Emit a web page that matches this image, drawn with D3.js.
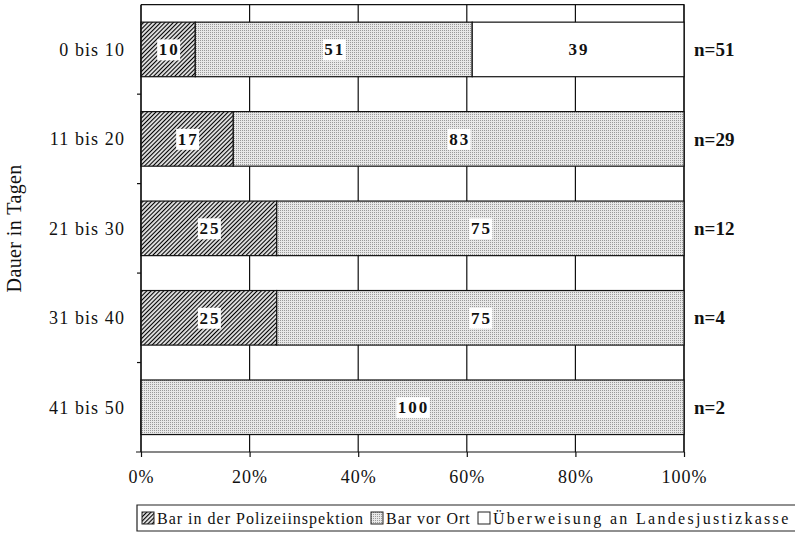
<!DOCTYPE html>
<html>
<head>
<meta charset="utf-8">
<script src="https://cdn.jsdelivr.net/npm/d3@7"></script>
<style>
  body { margin: 0; background: #fff; }
  svg { display: block; font-family: "Liberation Serif", "DejaVu Serif", serif; }
</style>
</head>
<body>
<svg id="chart" width="795" height="536"></svg>
<script>
const categories = ['0 bis 10', '11 bis 20', '21 bis 30', '31 bis 40', '41 bis 50'];
const polizei = [10, 17, 25, 25, 0];
const vorOrt = [51, 83, 75, 75, 100];
const ueberweisung = [39, 0, 0, 0, 0];
const nLabels = ['n=51', 'n=29', 'n=12', 'n=4', 'n=2'];
const xTicks = [0, 20, 40, 60, 80, 100];
const seriesNames = ['Bar in der Polizeiinspektion', 'Bar vor Ort', 'Überweisung an Landesjustizkasse'];

const svg = d3.select('#chart');
const width = 795;

const plotLeft = 141, plotRight = 684, plotTop = 4.7, plotBottom = 452;

const rows = categories.map((c, i) => ({
  cat: c, p: polizei[i], v: vorOrt[i], u: ueberweisung[i], n: nLabels[i]
}));
const keys = ['p', 'v', 'u'];
const stacked = d3.stack().keys(keys)(rows);

const x = d3.scaleLinear().domain([0, 100]).range([plotLeft, plotRight]);
const y = d3.scaleBand().domain(categories).range([plotTop, plotBottom])
  .paddingInner(0.39).paddingOuter(0.195);

// patterns
const defs = svg.append('defs');
const hatch = defs.append('pattern')
  .attr('id', 'hatch')
  .attr('patternUnits', 'userSpaceOnUse')
  .attr('width', 3).attr('height', 3)
  .attr('patternTransform', 'rotate(45)');
hatch.append('rect').attr('width', 3).attr('height', 3).attr('fill', '#e0e0e0');
hatch.append('line').attr('x1', 0).attr('y1', 0).attr('x2', 0).attr('y2', 3)
  .attr('stroke', '#000').attr('stroke-width', 2.1);

const dots = defs.append('pattern')
  .attr('id', 'dots')
  .attr('patternUnits', 'userSpaceOnUse')
  .attr('width', 2).attr('height', 2);
dots.append('rect').attr('width', 2).attr('height', 2).attr('fill', '#e8e8e8');
dots.append('rect').attr('width', 1).attr('height', 1).attr('fill', '#9a9a9a');

const fills = { p: 'url(#hatch)', v: 'url(#dots)', u: '#ffffff' };

// vertical grid lines
svg.append('g')
  .selectAll('line')
  .data(xTicks)
  .join('line')
  .attr('x1', d => x(d)).attr('x2', d => x(d))
  .attr('y1', plotTop).attr('y2', plotBottom)
  .attr('stroke', '#111').attr('stroke-width', 1.2);

// plot border (top and right)
svg.append('path')
  .attr('d', `M${plotLeft},${plotTop}H${plotRight}V${plotBottom}`)
  .attr('fill', 'none').attr('stroke', '#111').attr('stroke-width', 1.2);

// bars
svg.append('g')
  .selectAll('g')
  .data(stacked)
  .join('g')
  .attr('fill', d => fills[d.key])
  .selectAll('rect')
  .data(d => d.filter(s => s[1] - s[0] > 0))
  .join('rect')
  .attr('x', d => x(d[0]))
  .attr('y', d => y(d.data.cat))
  .attr('width', d => x(d[1]) - x(d[0]))
  .attr('height', y.bandwidth())
  .attr('stroke', '#111').attr('stroke-width', 1.2);

// value labels with white boxes
const labels = svg.append('g')
  .selectAll('g')
  .data(stacked.flatMap(s => s.filter(d => d[1] - d[0] > 0)))
  .join('g')
  .attr('transform', d => `translate(${x((d[0] + d[1]) / 2) + 1},${y(d.data.cat) + y.bandwidth() / 2})`);

labels.append('text')
  .attr('text-anchor', 'middle')
  .attr('dy', '0.35em')
  .attr('font-size', 17)
  .attr('font-weight', 'bold')
  .attr('letter-spacing', 2)
  .attr('fill', '#111')
  .text(d => d[1] - d[0])
  .each(function () {
    const b = this.getBBox();
    d3.select(this.parentNode).insert('rect', 'text')
      .attr('x', b.x - 1.5).attr('y', b.y - 1)
      .attr('width', b.width + 2).attr('height', b.height + 2)
      .attr('fill', '#fff');
  });

// n labels
svg.append('g')
  .selectAll('text')
  .data(rows)
  .join('text')
  .attr('x', 694)
  .attr('y', d => y(d.cat) + y.bandwidth() / 2)
  .attr('dy', '0.35em')
  .attr('font-size', 19)
  .attr('font-weight', 'bold')
  .attr('fill', '#111')
  .text(d => d.n);

// y axis: category labels and ticks at band boundaries
svg.append('g')
  .selectAll('text')
  .data(categories)
  .join('text')
  .attr('x', 125)
  .attr('y', d => y(d) + y.bandwidth() / 2)
  .attr('dy', '0.35em')
  .attr('text-anchor', 'end')
  .attr('font-size', 18)
  .attr('letter-spacing', 1.1)
  .attr('fill', '#111')
  .text(d => d);

svg.append('path')
  .attr('d', `M${plotLeft},${plotTop}V${plotBottom}`)
  .attr('stroke', '#111').attr('stroke-width', 1.2);

svg.append('g')
  .selectAll('line')
  .data(categories.slice(1))
  .join('line')
  .attr('x1', plotLeft - 4).attr('x2', plotLeft)
  .attr('y1', d => y(d) - y.step() * y.paddingInner() / 2)
  .attr('y2', d => y(d) - y.step() * y.paddingInner() / 2)
  .attr('stroke', '#111').attr('stroke-width', 1.2);

svg.append('text')
  .attr('transform', `translate(14,${(plotTop + plotBottom) / 2}) rotate(-90)`)
  .attr('text-anchor', 'middle')
  .attr('dy', '0.35em')
  .attr('font-size', 20)
  .attr('letter-spacing', 0.4)
  .attr('fill', '#111')
  .text('Dauer in Tagen');

// x axis
const xAxis = svg.append('g')
  .attr('transform', `translate(0,${plotBottom})`)
  .call(d3.axisBottom(x).tickValues(xTicks).tickFormat(d => d + '%').tickSize(5).tickPadding(13));
xAxis.select('.domain').remove();
xAxis.selectAll('line').attr('stroke', '#111').attr('stroke-width', 1.2);
xAxis.selectAll('text')
  .attr('font-size', 18)
  .attr('font-family', 'Liberation Serif')
  .attr('letter-spacing', 1)
  .attr('fill', '#111');
xAxis.append('line')
  .attr('x1', plotLeft - 5).attr('x2', plotRight)
  .attr('stroke', '#111').attr('stroke-width', 1.2);

// legend
const legend = svg.append('g');
legend.append('path')
  .attr('d', `M${width + 2},505H137V531H${width + 2}`)
  .attr('fill', 'none').attr('stroke', '#222').attr('stroke-width', 1.2);

const legendX = [142, 371, 478];
const legendSpacing = [1, 1, 2.3];
const legendItems = legend.selectAll('g.item')
  .data(keys)
  .join('g')
  .attr('class', 'item')
  .attr('transform', (d, i) => `translate(${legendX[i]},512)`);
legendItems.append('rect')
  .attr('width', 12).attr('height', 12)
  .attr('fill', d => fills[d])
  .attr('stroke', '#222').attr('stroke-width', 1);
legendItems.append('text')
  .attr('x', 15).attr('y', 11.5)
  .attr('font-size', 16)
  .attr('letter-spacing', (d, i) => legendSpacing[i])
  .attr('fill', '#111')
  .text((d, i) => seriesNames[i]);
</script>
</body>
</html>
